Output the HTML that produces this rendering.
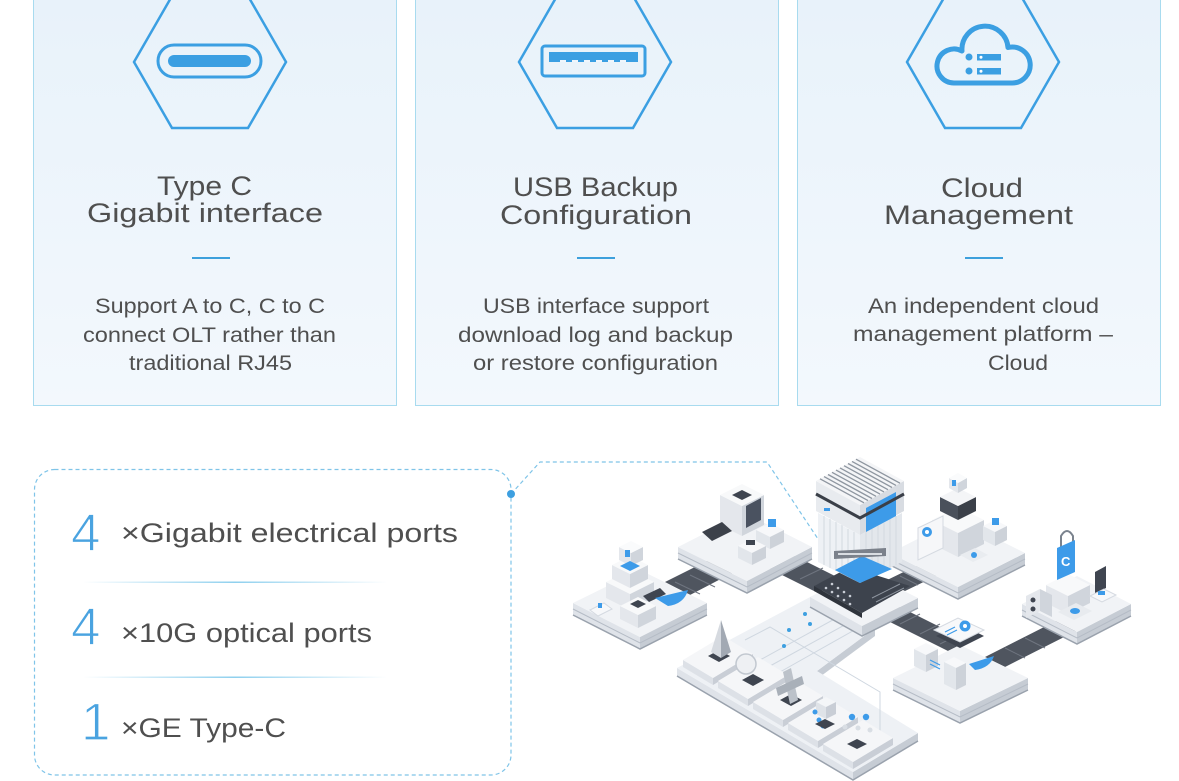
<!DOCTYPE html>
<html><head><meta charset="utf-8"><style>
html,body{margin:0;padding:0;background:#fff;}
svg{display:block;font-family:"Liberation Sans",sans-serif;}
</style></head><body>
<svg width="1179" height="781" viewBox="0 0 1179 781" xmlns="http://www.w3.org/2000/svg">
<defs>
<linearGradient id="cardg" x1="0" y1="0" x2="0" y2="1">
<stop offset="0" stop-color="#e8f2fa"/><stop offset="1" stop-color="#f3f8fd"/>
</linearGradient>
<linearGradient id="sep" x1="0" y1="0" x2="1" y2="0">
<stop offset="0" stop-color="#8fd0ee" stop-opacity="0"/><stop offset="0.5" stop-color="#8fd0ee"/><stop offset="1" stop-color="#8fd0ee" stop-opacity="0"/>
</linearGradient>
</defs>
<rect width="1179" height="781" fill="#fff"/>

<!-- cards -->
<rect x="33.5" y="-5" width="363" height="410.5" fill="url(#cardg)" stroke="#a8dbef" stroke-width="1"/>
<rect x="415.5" y="-5" width="363" height="410.5" fill="url(#cardg)" stroke="#a8dbef" stroke-width="1"/>
<rect x="797.5" y="-5" width="363" height="410.5" fill="url(#cardg)" stroke="#a8dbef" stroke-width="1"/>

<!-- hexagons -->
<g fill="none" stroke="#3b9fe2" stroke-width="2.5">
<polygon points="134,62 172,-4 248,-4 286,62 248,128 172,128"/>
<polygon points="519,62 557,-4 633,-4 671,62 633,128 557,128"/>
<polygon points="907,62 945,-4 1021,-4 1059,62 1021,128 945,128"/>
</g>
<!-- type c icon -->
<rect x="158" y="45" width="103" height="32" rx="16" fill="none" stroke="#3b9fe2" stroke-width="3"/>
<rect x="168" y="55" width="83" height="12" rx="6" fill="#3b9fe2"/>
<!-- usb icon -->
<rect x="542" y="46" width="103" height="30" rx="3" fill="none" stroke="#3b9fe2" stroke-width="3"/>
<rect x="549" y="52" width="89" height="10" fill="#3b9fe2"/>
<g fill="#f0f6fc"><rect x="560" y="60" width="6" height="2"/><rect x="572" y="60" width="6" height="2"/><rect x="584" y="60" width="6" height="2"/><rect x="596" y="60" width="6" height="2"/><rect x="608" y="60" width="6" height="2"/><rect x="620" y="60" width="6" height="2"/></g>
<!-- cloud icon -->
<path d="M954,83 A17,17 0 1 1 962,51 A23,23 0 0 1 1008,47.5 A18,18 0 1 1 1012,83 Z" fill="none" stroke="#3b9fe2" stroke-width="5" stroke-linejoin="round"/>
<circle cx="969" cy="57" r="3.5" fill="#3b9fe2"/><circle cx="969" cy="71" r="3.5" fill="#3b9fe2"/>
<rect x="977" y="54" width="24" height="6.5" fill="#3b9fe2"/><rect x="977" y="68" width="24" height="6.5" fill="#3b9fe2"/>
<circle cx="981" cy="57.3" r="1.5" fill="#fff"/><circle cx="981" cy="71.3" r="1.5" fill="#fff"/>

<!-- titles -->
<g fill="#4f4f4f" font-size="27">
<text x="157" y="195" textLength="95" lengthAdjust="spacingAndGlyphs">Type C</text>
<text x="87" y="222" textLength="236" lengthAdjust="spacingAndGlyphs">Gigabit interface</text>
<text x="513" y="196" textLength="165" lengthAdjust="spacingAndGlyphs">USB Backup</text>
<text x="500" y="224" textLength="192" lengthAdjust="spacingAndGlyphs">Configuration</text>
<text x="941" y="197" textLength="82" lengthAdjust="spacingAndGlyphs">Cloud</text>
<text x="884" y="224" textLength="189" lengthAdjust="spacingAndGlyphs">Management</text>
</g>
<g fill="#3da0dc">
<rect x="192" y="257" width="38" height="2"/>
<rect x="577" y="257" width="38" height="2"/>
<rect x="965" y="257" width="38" height="2"/>
</g>
<g fill="#4f4f4f" font-size="21">
<text x="95" y="313" textLength="230" lengthAdjust="spacingAndGlyphs">Support A to C, C to C</text>
<text x="83" y="342" textLength="253" lengthAdjust="spacingAndGlyphs">connect OLT rather than</text>
<text x="129" y="370" textLength="163" lengthAdjust="spacingAndGlyphs">traditional RJ45</text>
<text x="483" y="313" textLength="226" lengthAdjust="spacingAndGlyphs">USB interface support</text>
<text x="458" y="342" textLength="275" lengthAdjust="spacingAndGlyphs">download log and backup</text>
<text x="473" y="370" textLength="245" lengthAdjust="spacingAndGlyphs">or restore configuration</text>
<text x="868" y="313" textLength="231" lengthAdjust="spacingAndGlyphs">An independent cloud</text>
<text x="853" y="341" textLength="260" lengthAdjust="spacingAndGlyphs">management platform –</text>
<text x="988" y="370" textLength="60" lengthAdjust="spacingAndGlyphs">Cloud</text>
</g>

<!-- bottom dashed box -->
<rect x="34.5" y="469.5" width="476.5" height="305.5" rx="20" fill="none" stroke="#7fc4e8" stroke-width="1.2" stroke-dasharray="4 3"/>
<polyline points="511,494 540,462 767,462 824,548" fill="none" stroke="#7fc4e8" stroke-width="1.2" stroke-dasharray="4 3"/>
<circle cx="511" cy="494" r="4" fill="#3d9fe0"/>
<circle cx="824" cy="548" r="4.5" fill="#3d9fe0"/>

<g fill="#4aa3e0" font-size="53" stroke="#ffffff" stroke-width="1.2">
<text x="71" y="551">4</text>
<text x="71" y="645">4</text>
<text x="81" y="740">1</text>
</g>
<g fill="#4f4f4f" font-size="27">
<text x="121" y="542" textLength="337" lengthAdjust="spacingAndGlyphs">×Gigabit electrical ports</text>
<text x="121" y="642" textLength="251" lengthAdjust="spacingAndGlyphs">×10G optical ports</text>
<text x="121" y="737" textLength="165" lengthAdjust="spacingAndGlyphs">×GE Type-C</text>
</g>
<rect x="83" y="581.5" width="304" height="1.5" fill="url(#sep)"/>
<rect x="83" y="676.5" width="304" height="1.5" fill="url(#sep)"/>

<!-- ===== illustration ===== -->
<!-- conveyor strips -->
<g fill="#4f555f">
<polygon points="665,582 707,561 738,570 690,595"/>
<polygon points="770,569 795,556 843,580 818,593"/>
<polygon points="885,581 916,566 936,576 905,591"/>
<polygon points="880,617 900,607 968,641 948,651"/>
<polygon points="985,657 1056,621 1076,631 1005,667"/>
</g>
<g stroke="#6f7580" stroke-width="1">
<line x1="675" y1="582" x2="700" y2="594"/><line x1="690" y1="575" x2="715" y2="587"/><line x1="705" y1="568" x2="728" y2="579"/>
<line x1="785" y1="571" x2="808" y2="560"/><line x1="800" y1="579" x2="823" y2="568"/><line x1="815" y1="586" x2="836" y2="576"/>
<line x1="900" y1="576" x2="918" y2="585"/><line x1="915" y1="570" x2="930" y2="578"/>
<line x1="900" y1="624" x2="920" y2="614"/><line x1="920" y1="634" x2="940" y2="624"/><line x1="940" y1="644" x2="958" y2="635"/>
<line x1="1005" y1="648" x2="1025" y2="658"/><line x1="1025" y1="638" x2="1045" y2="648"/><line x1="1045" y1="628" x2="1063" y2="637"/>
</g>

<!-- platform B -->
<g>
<polygon points="678,547 747,581 747,593 678,559" fill="#dfe3e9"/>
<polygon points="747,581 812,547 812,559 747,593" fill="#c6ccd4"/>
<polygon points="678,547 745,513 812,547 747,581" fill="#f1f3f6"/>
<polyline points="678,553 747,587 812,553" fill="none" stroke="#b5bcc6" stroke-width="1"/>
<polyline points="678,559 747,593 812,559" fill="none" stroke="#9aa2ad" stroke-width="1.5"/>
<!-- big box -->
<polygon points="720,495 742,506 742,536 720,525" fill="#e4e7ec"/>
<polygon points="742,506 764,495 764,525 742,536" fill="#d0d5dc"/>
<polygon points="720,495 742,484 764,495 742,506" fill="#f8f9fa"/>
<polygon points="732,495 742,490 752,495 742,500" fill="#3f4550"/>
<polygon points="746,506 761,498 761,520 746,528" fill="#4a5260"/>
<polygon points="702,532 722,522 732,531 712,541" fill="#3c414a"/>
<polygon points="756,530 770,523 784,530 770,537" fill="#f7f8fa"/><polygon points="756,530 770,537 770,549 756,542" fill="#e2e6eb"/><polygon points="770,537 784,530 784,542 770,549" fill="#cdd2d9"/>
<polygon points="738,546 752,539 766,546 752,553" fill="#f7f8fa"/><polygon points="738,546 752,553 752,565 738,558" fill="#e2e6eb"/><polygon points="752,553 766,546 766,558 752,565" fill="#cdd2d9"/>
<rect x="746" y="540" width="9" height="5" fill="#3f4550"/>
<rect x="768" y="519" width="8" height="8" fill="#3d9be9"/>
</g>

<!-- platform C -->
<g>
<polygon points="890,553 958,587 958,599 890,565" fill="#dfe3e9"/>
<polygon points="958,587 1025,553 1025,565 958,599" fill="#c6ccd4"/>
<polygon points="890,553 957,519 1025,553 958,587" fill="#f1f3f6"/>
<polyline points="890,559 958,593 1025,559" fill="none" stroke="#b5bcc6" stroke-width="1"/>
<polyline points="890,565 958,599 1025,565" fill="none" stroke="#9aa2ad" stroke-width="1.5"/>
<polygon points="932,520 958,533 958,557 932,544" fill="#e4e7ec"/>
<polygon points="958,533 984,520 984,544 958,557" fill="#d0d5dc"/>
<polygon points="932,520 958,507 984,520 958,533" fill="#f8f9fa"/>
<polygon points="940,497 958,506 958,520 940,511" fill="#4a505b"/>
<polygon points="958,506 976,497 976,511 958,520" fill="#3b4049"/>
<polygon points="940,497 958,488 976,497 958,506" fill="#f4f5f7"/>
<polygon points="949,478 958,483 958,493 949,488" fill="#e4e7ec"/>
<polygon points="958,483 967,478 967,488 958,493" fill="#d0d5dc"/>
<polygon points="949,478 958,473 967,478 958,483" fill="#fafbfc"/>
<rect x="952" y="480" width="4" height="6" fill="#3d9be9"/>
<polygon points="918,528 943,516 943,548 918,560" fill="#f6f7f9" stroke="#d5dae1"/>
<circle cx="927" cy="532" r="5" fill="#3d9be9"/><circle cx="927" cy="532" r="2" fill="#fff"/>
<polygon points="983,526 995,520 1007,526 995,532" fill="#f7f8fa"/><polygon points="983,526 995,532 995,546 983,540" fill="#e2e6eb"/><polygon points="995,532 1007,526 1007,540 995,546" fill="#cdd2d9"/>
<rect x="992" y="518" width="7" height="7" fill="#3d9be9"/>
<polygon points="960,555 975,548 988,555 973,562" fill="#e9ecf0"/>
<circle cx="974" cy="555" r="3" fill="#3d9be9"/>
</g>

<!-- L shape pathway -->
<g>
<polygon points="677,668 853,772 853,780 677,676" fill="#dfe3e9"/>
<polygon points="853,772 918,733 918,741 853,780" fill="#c6ccd4"/>
<polygon points="817,671 875,628 875,636 817,679" fill="#c6ccd4"/>
<polygon points="677,668 812,596 875,628 817,671 918,733 853,772" fill="#eef1f5"/>
<polyline points="677,676 853,780 918,741" fill="none" stroke="#9aa2ad" stroke-width="1.5"/>
<g stroke="#cfd7e0" stroke-width="1" fill="none">
<line x1="760" y1="660" x2="840" y2="616"/><line x1="770" y1="666" x2="850" y2="622"/><line x1="780" y1="672" x2="858" y2="628"/>
<polyline points="745,640 770,627 880,692 880,745"/>
</g>
<g fill="#3d9fe0"><circle cx="805" cy="614" r="2"/><circle cx="810" cy="624" r="2"/><circle cx="789" cy="630" r="2"/><circle cx="784" cy="646" r="2"/></g>
<!-- tiles -->
<g>
<polygon points="683,660 713,678 713,685 683,667" fill="#dde1e7"/><polygon points="713,678 753,654 753,661 713,685" fill="#c9ced6"/><polygon points="683,660 723,636 753,654 713,678" fill="#f5f6f8"/>
<polygon points="718,681 748,699 748,706 718,688" fill="#dde1e7"/><polygon points="748,699 788,675 788,682 748,706" fill="#c9ced6"/><polygon points="718,681 758,657 788,675 748,699" fill="#f5f6f8"/>
<polygon points="753,702 783,720 783,727 753,709" fill="#dde1e7"/><polygon points="783,720 823,696 823,703 783,727" fill="#c9ced6"/><polygon points="753,702 793,678 823,696 783,720" fill="#f5f6f8"/>
<polygon points="788,723 818,741 818,748 788,730" fill="#dde1e7"/><polygon points="818,741 858,717 858,724 818,748" fill="#c9ced6"/><polygon points="788,723 828,699 858,717 818,741" fill="#f5f6f8"/>
<polygon points="823,744 853,762 853,769 823,751" fill="#dde1e7"/><polygon points="853,762 893,738 893,745 853,769" fill="#c9ced6"/><polygon points="823,744 863,720 893,738 853,762" fill="#f5f6f8"/>
</g>
<polygon points="708,656 719,650 730,656 719,662" fill="#3f4550"/>
<polygon points="711,652 721,620 721,658" fill="#d6dae0"/><polygon points="721,620 731,652 721,658" fill="#a2a9b3"/>
<polygon points="742,680 753,674 764,680 753,686" fill="#3f4550"/>
<circle cx="746" cy="664" r="10" fill="#eef0f3" stroke="#c2c8d0" stroke-width="1.5"/>
<polygon points="780,700 791,694 802,700 791,706" fill="#3f4550"/>
<polygon points="783,672 791,668 798,700 790,704" fill="#bcc2ca"/>
<polygon points="776,688 802,676 804,684 778,696" fill="#a9b0b9"/>
<polygon points="816,702 826,697 836,702 826,707" fill="#f4f6f8"/><polygon points="816,702 826,707 826,719 816,714" fill="#dfe3e8"/><polygon points="826,707 836,702 836,714 826,719" fill="#c9ced6"/>
<g fill="#3d9be9"><circle cx="815" cy="712" r="2.5"/><circle cx="819" cy="720" r="2.5"/><circle cx="823" cy="726" r="2.5"/></g>
<polygon points="815,724 825,719 835,724 825,729" fill="#3f4550"/>
<polygon points="847,744 857,739 867,744 857,749" fill="#3f4550"/>
<circle cx="852" cy="717" r="3.2" fill="#3d9be9"/><circle cx="866" cy="717" r="3.2" fill="#3d9be9"/>
<g fill="#d9dee4"><circle cx="845" cy="727" r="2.5"/><circle cx="858" cy="728" r="2.5"/><circle cx="870" cy="730" r="2.5"/></g>
</g>

<!-- center column -->
<g>
<polygon points="810,597 862,626 862,636 810,607" fill="#dfe3e9"/>
<polygon points="862,626 918,598 918,608 862,636" fill="#c6ccd4"/>
<polygon points="810,597 862,570 918,598 862,626" fill="#f1f3f6"/>
<polyline points="810,607 862,636 918,608" fill="none" stroke="#9aa2ad" stroke-width="1.5"/>
<polygon points="814,586 850,567 910,586 862,613" fill="#3d434d"/>
<polygon points="814,586 862,613 862,618 814,591" fill="#2f343c"/>
<g fill="#c9ced6"><circle cx="826" cy="588" r="1.3"/><circle cx="832" cy="592" r="1.3"/><circle cx="838" cy="596" r="1.3"/><circle cx="844" cy="600" r="1.3"/><circle cx="832" cy="584" r="1.3"/><circle cx="838" cy="588" r="1.3"/><circle cx="844" cy="592" r="1.3"/><circle cx="850" cy="596" r="1.3"/><circle cx="850" cy="604" r="1.3"/></g>
<line x1="872" y1="598" x2="900" y2="584" stroke="#8f96a0" stroke-width="1"/>
<line x1="876" y1="602" x2="904" y2="588" stroke="#8f96a0" stroke-width="1"/>
<!-- column body -->
<polygon points="818,513 860,535 860,583 818,562" fill="#eef1f5"/>
<polygon points="860,535 902,513 902,562 860,583" fill="#e3e7ec"/>
<g stroke="#d3d9e0" stroke-width="1">
<line x1="824" y1="516" x2="824" y2="565"/><line x1="830" y1="519" x2="830" y2="568"/><line x1="836" y1="522" x2="836" y2="571"/><line x1="842" y1="525" x2="842" y2="574"/><line x1="848" y1="529" x2="848" y2="577"/><line x1="854" y1="532" x2="854" y2="580"/>
<line x1="866" y1="532" x2="866" y2="580"/><line x1="872" y1="529" x2="872" y2="577"/><line x1="878" y1="526" x2="878" y2="574"/><line x1="884" y1="523" x2="884" y2="571"/><line x1="890" y1="519" x2="890" y2="568"/><line x1="896" y1="516" x2="896" y2="565"/>
</g>
<polygon points="835,570 862,556 892,569 860,583" fill="#3d9be9"/>
<polygon points="834,551 886,548 886,556 834,559" fill="#7b818b"/>
<rect x="838" y="553" width="44" height="2" fill="#d9dde2"/>
<!-- server -->
<polygon points="816,481 860,505 860,535 816,511" fill="#e8ebef"/>
<polygon points="860,505 904,481 904,511 860,535" fill="#d8dce2"/>
<polygon points="866,508 896,492 896,516 866,532" fill="#3d9be9"/>
<polyline points="816,494 860,518 904,494" fill="none" stroke="#3a3f48" stroke-width="3"/>
<polygon points="816,481 860,457 904,481 860,505" fill="#f4f5f7"/>
<g stroke="#8e96a0" stroke-width="1.3">
<line x1="820" y1="478.8" x2="864" y2="502.8"/><line x1="824" y1="476.6" x2="868" y2="500.6"/><line x1="828" y1="474.5" x2="872" y2="498.5"/><line x1="832" y1="472.3" x2="876" y2="496.3"/><line x1="836" y1="470.1" x2="880" y2="494.1"/><line x1="840" y1="467.9" x2="884" y2="491.9"/><line x1="844" y1="465.7" x2="888" y2="489.7"/><line x1="848" y1="463.5" x2="892" y2="487.5"/><line x1="852" y1="461.4" x2="896" y2="485.4"/><line x1="856" y1="459.2" x2="900" y2="483.2"/>
</g>
<rect x="824" y="508" width="6" height="3" fill="#3d9be9"/>
</g>

<!-- platform A -->
<g>
<polygon points="573,603 640,637 640,649 573,615" fill="#dfe3e9"/>
<polygon points="640,637 707,603 707,615 640,649" fill="#c6ccd4"/>
<polygon points="573,603 640,570 707,603 640,637" fill="#f1f3f6"/>
<polyline points="573,609 640,643 707,609" fill="none" stroke="#b5bcc6" stroke-width="1"/>
<polyline points="573,615 640,649 707,615" fill="none" stroke="#9aa2ad" stroke-width="1.5"/>
<polygon points="606,582 630,594 630,610 606,598" fill="#e4e7ec"/><polygon points="630,594 654,582 654,598 630,610" fill="#d0d5dc"/><polygon points="606,582 630,570 654,582 630,594" fill="#f8f9fa"/>
<polygon points="612,565 630,574 630,588 612,579" fill="#e4e7ec"/><polygon points="630,574 648,565 648,579 630,588" fill="#d0d5dc"/><polygon points="612,565 630,556 648,565 630,574" fill="#f8f9fa"/>
<polygon points="619,547 631,553 631,566 619,560" fill="#e4e7ec"/><polygon points="631,553 643,547 643,560 631,566" fill="#d0d5dc"/><polygon points="619,547 631,541 643,547 631,553" fill="#fafbfc"/>
<rect x="625" y="550" width="5" height="7" fill="#3d9be9"/>
<polygon points="620,566 630,571 640,566 630,561" fill="#3d9be9"/>
<polygon points="620,606 638,615 638,628 620,619" fill="#e4e7ec"/><polygon points="638,615 656,606 656,619 638,628" fill="#d0d5dc"/><polygon points="620,606 638,597 656,606 638,615" fill="#f8f9fa"/>
<polygon points="630,604 638,600 646,604 638,608" fill="#3f4550"/>
<polygon points="643,596 660,588 666,594 649,602" fill="#3f4550"/>
<path d="M655,598 L688,590 Q684,604 668,606 Z" fill="#3d9be9"/>
<polygon points="590,610 604,603 612,609 598,616" fill="#f7f8fa" stroke="#d5dae1"/>
<rect x="598" y="603" width="4" height="5" fill="#3d9be9"/>
</g>

<!-- platform D -->
<g>
<polygon points="1022,604 1077,632 1077,644 1022,616" fill="#dfe3e9"/>
<polygon points="1077,632 1131,604 1131,616 1077,644" fill="#c6ccd4"/>
<polygon points="1022,604 1077,576 1131,604 1077,632" fill="#f1f3f6"/>
<polyline points="1022,610 1077,638 1131,610" fill="none" stroke="#b5bcc6" stroke-width="1"/>
<polyline points="1022,616 1077,644 1131,616" fill="none" stroke="#9aa2ad" stroke-width="1.5"/>
<polygon points="1046,585 1068,596 1068,614 1046,603" fill="#e4e7ec"/><polygon points="1068,596 1090,585 1090,603 1068,614" fill="#d0d5dc"/><polygon points="1046,585 1068,574 1090,585 1068,596" fill="#f8f9fa"/>
<path d="M1061,548 L1061,536 Q1067,526 1073,536 L1073,544" fill="none" stroke="#7b838e" stroke-width="2"/>
<polygon points="1057,548 1075,540 1075,572 1057,580" fill="#3d9be9"/>
<text x="1061" y="566" font-size="13" fill="#fff" font-weight="bold">C</text>
<polygon points="1026,596 1040,589 1040,611 1026,618" fill="#e4e7ec"/><polygon points="1040,589 1052,595 1052,617 1040,611" fill="#d0d5dc"/>
<circle cx="1033" cy="600" r="2.5" fill="#3f4550"/><circle cx="1033" cy="609" r="2.5" fill="#3f4550"/>
<polygon points="1095,572 1106,566 1106,588 1095,594" fill="#3f4550"/>
<polygon points="1090,596 1104,589 1116,595 1102,602" fill="#f7f8fa" stroke="#d5dae1"/>
<rect x="1098" y="591" width="7" height="4" fill="#3d9be9"/>
<polygon points="1058,612 1076,603 1092,611 1074,620" fill="#e8ebef"/>
<ellipse cx="1075" cy="611" rx="5" ry="3" fill="#3d9be9"/>
</g>

<!-- platform E -->
<g>
<polygon points="893,678 960,711 960,723 893,690" fill="#dfe3e9"/>
<polygon points="960,711 1028,678 1028,690 960,723" fill="#c6ccd4"/>
<polygon points="893,678 960,645 1028,678 960,711" fill="#f1f3f6"/>
<polyline points="893,684 960,717 1028,684" fill="none" stroke="#b5bcc6" stroke-width="1"/>
<polyline points="893,690 960,723 1028,690" fill="none" stroke="#9aa2ad" stroke-width="1.5"/>
<polygon points="936,636 960,624 984,636 960,648" fill="#3f4550"/>
<polygon points="934,630 958,618 984,630 960,642" fill="#f7f8fa" stroke="#d5dae1"/>
<circle cx="965" cy="626" r="5.5" fill="#3d9be9"/><circle cx="965" cy="626" r="2" fill="#fff"/>
<g stroke="#3d9be9" stroke-width="1.2"><line x1="945" y1="632" x2="955" y2="627"/><line x1="947" y1="635" x2="957" y2="630"/></g>
<polygon points="914,649 926,643 938,649 926,655" fill="#f7f8fa"/><polygon points="914,649 926,655 926,672 914,666" fill="#e2e6eb"/><polygon points="926,655 938,649 938,666 926,672" fill="#cdd2d9"/>
<polygon points="944,662 954,657 966,663 956,668" fill="#f7f8fa"/><polygon points="944,662 956,668 956,690 944,684" fill="#e2e6eb"/><polygon points="956,668 966,663 966,685 956,690" fill="#cdd2d9"/>
<path d="M969,664 L994,656 Q990,668 975,670 Z" fill="#3d9be9"/>
<g stroke="#3d9be9" stroke-width="1.2"><line x1="930" y1="660" x2="940" y2="665"/><line x1="930" y1="664" x2="940" y2="669"/></g>
</g>
</svg>
</body></html>
